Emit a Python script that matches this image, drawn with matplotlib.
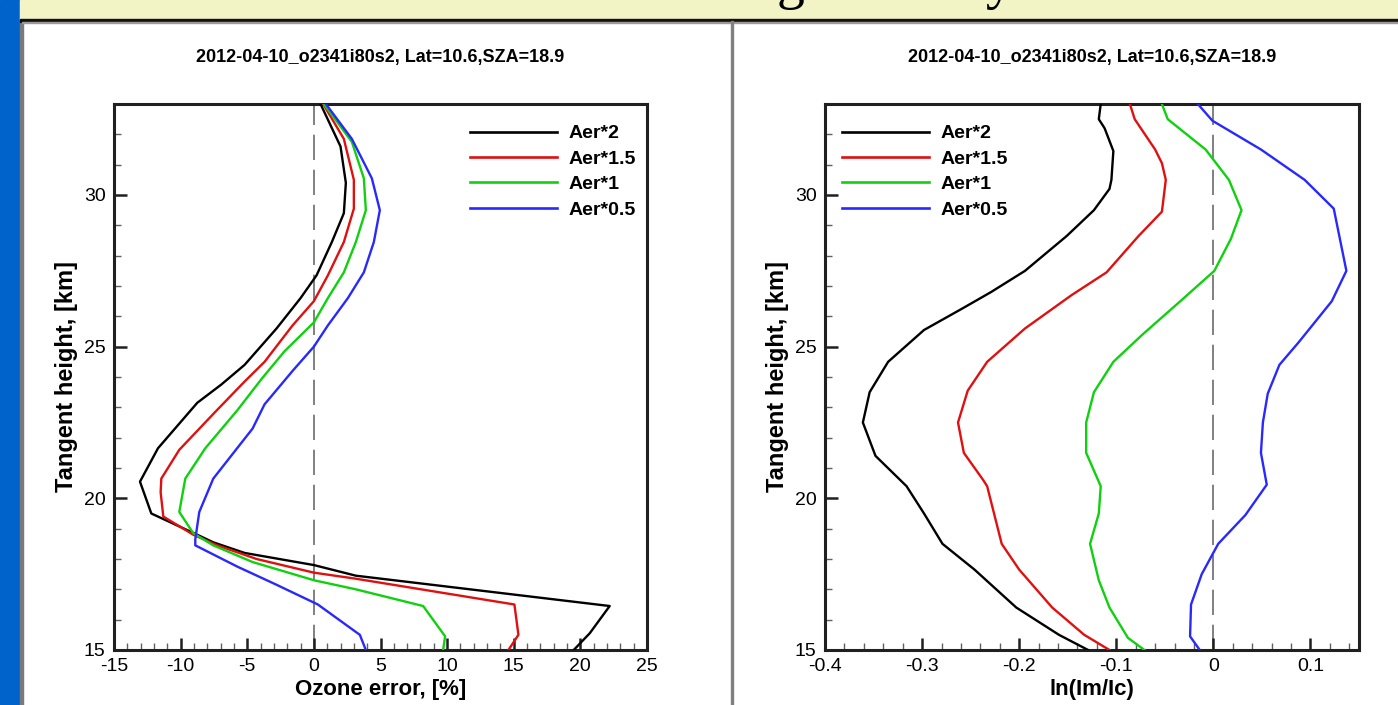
import matplotlib
matplotlib.use("Agg")
import matplotlib.pyplot as plt
from matplotlib.patches import Rectangle
from matplotlib.lines import Line2D
from matplotlib.ticker import MultipleLocator

FONT = ['Liberation Sans Narrow', 'Liberation Sans', 'DejaVu Sans']
plt.rcParams['font.family'] = FONT
plt.rcParams['axes.unicode_minus'] = False

title_text = "2012-04-10_o2341i80s2, Lat=10.6,SZA=18.9"
labels = ["Aer*2", "Aer*1.5", "Aer*1", "Aer*0.5"]
colors = ["#000000", "#e01010", "#10d010", "#2828ff"]

# left panel: ozone error [%] vs tangent height [km]
oz_h_2 = [33.0, 31.6, 30.4, 29.4, 28.45, 27.35, 26.6, 25.6, 24.4, 23.75, 23.15, 21.65,
          20.55, 19.5, 18.8, 18.55, 18.2, 17.8, 17.45, 16.45, 15.55, 15.0]
oz_x_2 = [0.5, 2.0, 2.4, 2.25, 1.35, 0.2, -1.0, -2.8, -5.2, -6.95, -8.75, -11.7,
          -13.05, -12.2, -8.75, -7.55, -5.2, 0.0, 3.15, 22.2, 20.7, 19.5]
oz_h_15 = [33.0, 31.85, 30.5, 29.55, 28.45, 27.35, 26.5, 25.7, 24.5, 23.85, 22.85, 21.6,
           20.65, 20.2, 19.4, 18.8, 18.45, 18.0, 17.55, 17.35, 16.5, 15.5, 15.0]
oz_x_15 = [0.7, 2.25, 3.0, 3.0, 2.25, 1.05, 0.0, -1.6, -3.7, -5.2, -7.4, -10.1,
           -11.45, -11.5, -11.3, -9.05, -7.25, -4.3, 0.0, 3.15, 15.05, 15.35, 14.6]
oz_h_1 = [33.0, 31.75, 30.55, 29.5, 28.45, 27.45, 26.6, 25.8, 24.85, 23.95, 22.9, 21.65,
          20.65, 19.55, 18.85, 18.45, 17.9, 17.3, 17.0, 16.45, 15.45, 15.0]
oz_x_1 = [0.75, 2.85, 3.75, 3.9, 3.15, 2.25, 1.05, 0.0, -2.2, -3.9, -5.75, -8.15,
          -9.65, -10.1, -9.05, -7.55, -4.6, 0.0, 3.15, 8.2, 9.85, 9.7]
oz_h_05 = [33.0, 31.85, 30.55, 29.5, 28.45, 27.45, 26.6, 25.7, 25.0, 24.2, 23.1, 22.3,
           20.65, 19.55, 18.65, 18.45, 17.75, 17.15, 16.5, 15.5, 15.0]
oz_x_05 = [0.9, 2.85, 4.35, 4.95, 4.5, 3.75, 2.55, 1.05, 0.0, -1.6, -3.7, -4.6,
           -7.55, -8.6, -8.9, -8.9, -5.75, -2.8, 0.3, 3.45, 3.9]

# right panel: ln(Im/Ic) vs tangent height [km]
ln_h_2 = [33.0, 32.5, 32.2, 31.45, 30.5, 30.2, 29.5, 28.65, 27.5, 26.8, 26.25, 25.55,
          24.5, 23.5, 22.5, 21.4, 20.4, 19.5, 18.5, 17.65, 16.4, 15.5, 15.0]
ln_x_2 = [-0.116, -0.118, -0.112, -0.103, -0.105, -0.107, -0.123, -0.151, -0.194, -0.229,
          -0.259, -0.298, -0.335, -0.354, -0.361, -0.348, -0.316, -0.298, -0.279, -0.246,
          -0.203, -0.159, -0.129]
ln_h_15 = [33.0, 32.5, 31.5, 31.05, 30.5, 29.45, 28.65, 27.45, 26.7, 25.6, 24.5, 23.55,
           22.5, 21.5, 20.6, 20.4, 18.5, 17.65, 16.4, 15.5, 15.0]
ln_x_15 = [-0.086, -0.081, -0.06, -0.053, -0.049, -0.053, -0.077, -0.11, -0.146, -0.194,
           -0.233, -0.253, -0.263, -0.257, -0.237, -0.233, -0.218, -0.2, -0.166, -0.133, -0.107]
ln_h_1 = [33.0, 32.5, 31.5, 30.5, 29.5, 28.55, 27.5, 26.5, 25.4, 24.5, 23.5, 22.5,
          21.5, 20.4, 19.5, 18.5, 17.3, 16.4, 15.4, 15.0]
ln_x_1 = [-0.053, -0.047, -0.008, 0.016, 0.029, 0.018, 0.001, -0.034, -0.073, -0.103,
          -0.123, -0.131, -0.131, -0.116, -0.118, -0.127, -0.118, -0.107, -0.088, -0.071]
ln_h_05 = [33.0, 32.45, 31.5, 30.5, 29.55, 27.5, 26.5, 25.15, 24.4, 23.45, 22.5, 21.5,
           20.45, 19.45, 18.5, 17.5, 16.5, 15.45, 15.0]
ln_x_05 = [-0.016, -0.001, 0.049, 0.094, 0.124, 0.137, 0.122, 0.088, 0.068, 0.056,
           0.051, 0.049, 0.055, 0.033, 0.005, -0.012, -0.023, -0.024, -0.014]

W, H = 1398, 705
fig = plt.figure(figsize=(W / 100, H / 100), dpi=100)
fig.patch.set_facecolor("white")

# slide frame
def px_rect(x, y, w, h, **kw):
    fig.patches.append(Rectangle((x / W, 1 - (y + h) / H), w / W, h / H,
                                 transform=fig.transFigure, **kw))

px_rect(0, 0, 20, H, color="#0063cc", zorder=0)
px_rect(20, 0, 2.5, H, color="#7a7a7a", zorder=0)
px_rect(20, 0, W - 20, 20, color="#f3f4c6", zorder=0)
px_rect(20, 19, W - 20, 2.5, color="#111111", zorder=0)
px_rect(22, 21.5, W - 22, 1.5, color="#9a9a9a", zorder=0)
px_rect(731, 21, 2.2, H - 21, color="#808080", zorder=0)
# bottom of the slide heading, cut off by the crop
for ch, xp in [("g", 777), ("y", 985)]:
    fig.text(xp / W, 1 + 2 / H, ch, fontsize=40, family="Liberation Serif",
             va="baseline", ha="left", color="black")


def style_axes(ax, xmajor, xminor):
    ax.set_ylim(15, 33)
    ax.yaxis.set_major_locator(MultipleLocator(5))
    ax.yaxis.set_minor_locator(MultipleLocator(1))
    ax.xaxis.set_major_locator(MultipleLocator(xmajor))
    ax.xaxis.set_minor_locator(MultipleLocator(xminor))
    ax.tick_params(which="both", direction="in", top=False, right=False,
                   labelsize=14, pad=6)
    ax.tick_params(which="major", length=9, width=1.8, color="#202020")
    ax.tick_params(which="minor", length=5, width=1.0, color="#606060")
    for s in ax.spines.values():
        s.set_linewidth(2.2)
        s.set_color("#202020")
    ax.axvline(0, color="#808080", lw=1.4, dashes=(13, 5), zorder=1)
    ax.set_title(title_text, fontsize=13, fontweight="bold", pad=30)
    ax.set_ylabel("Tangent height, [km]", fontsize=17, fontweight="bold", labelpad=4)


ax1 = fig.add_axes([114 / W, 1 - 650 / H, 533 / W, 546 / H])
ax1.set_xlim(-15, 25)
style_axes(ax1, 5, 1)
for xs, hs, c, lab in zip([oz_x_2, oz_x_15, oz_x_1, oz_x_05],
                          [oz_h_2, oz_h_15, oz_h_1, oz_h_05], colors, labels):
    ax1.plot(xs, hs, color=c, lw=1.7, label=lab, zorder=3)
ax1.set_xlabel("Ozone error, [%]", fontsize=16, fontweight="bold", labelpad=3)

ax2 = fig.add_axes([825 / W, 1 - 650 / H, 534 / W, 546 / H])
ax2.set_xlim(-0.4, 0.15)
style_axes(ax2, 0.1, 0.02)
ax2.xaxis.set_major_formatter(lambda v, p: f"{v:g}" if abs(v) > 1e-9 else "0")
for xs, hs, c, lab in zip([ln_x_2, ln_x_15, ln_x_1, ln_x_05],
                          [ln_h_2, ln_h_15, ln_h_1, ln_h_05], colors, labels):
    ax2.plot(xs, hs, color=c, lw=1.7, label=lab, zorder=3)
ax2.set_xlabel("ln(Im/Ic)", fontsize=16, fontweight="bold", labelpad=3)

for ax, x0 in [(ax1, (470 - 114) / 533), (ax2, (842 - 825) / 534)]:
    handles = [Line2D([], [], color=c, lw=1.9) for c in colors]
    ax.legend(handles, labels, loc="upper left", bbox_to_anchor=(x0, 0.962),
              frameon=False, borderpad=0, borderaxespad=0, handlelength=4.45,
              handletextpad=0.62, labelspacing=0.4,
              prop={"family": FONT, "weight": "bold", "size": 14})

fig.savefig("out.png", dpi=100)
